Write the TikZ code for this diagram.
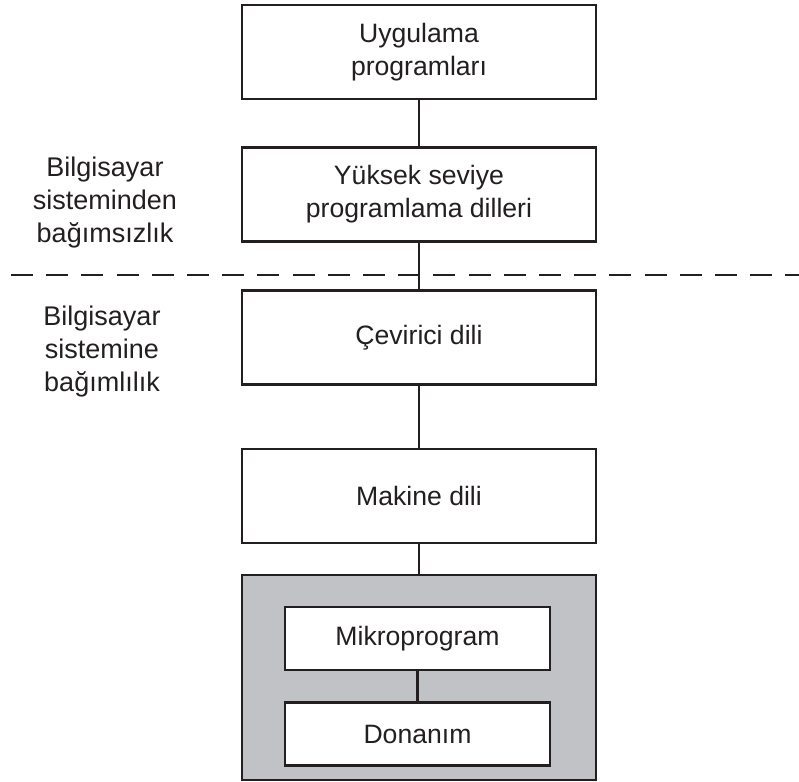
\documentclass[tikz,border=0pt]{standalone}
\usepackage{fontspec}
\setmainfont{Liberation Sans}
\definecolor{inkgrey}{RGB}{35,31,32}
\definecolor{hwgrey}{RGB}{193,194,197}
\tikzset{
  layer/.style={draw=inkgrey,line width=1.2pt,fill=white,text=inkgrey,
                minimum width=177pt,minimum height=47pt,inner sep=0pt,
                align=center,font=\fontsize{13.3}{16.5}\selectfont},
  hwbox/.style={layer,fill=hwgrey,minimum height=102.5pt},
  sublayer/.style={layer,minimum width=132.5pt,minimum height=31.5pt},
  link/.style={draw=inkgrey,line width=1.2pt},
  sidenote/.style={align=center,text=inkgrey,inner sep=0pt,
                   font=\fontsize{13.5}{16.5}\selectfont},
  divider/.style={draw=inkgrey,line width=1.3pt,dash pattern=on 11pt off 6.6pt},
}
\begin{document}
\begin{tikzpicture}[x=0.5pt,y=-0.5pt]
  \useasboundingbox (0,0) rectangle (799,782);
  % separator between the two halves
  \draw[divider] (11,275) -- (799,275);
  % language levels
  \node[layer] (uyg) at (419,52) {Uygulama\\programları};
  \node[layer] (yuk) at (419,194.5) {Yüksek seviye\\programlama dilleri};
  \node[layer] (cev) at (419,337.5) {Çevirici dili};
  \node[layer] (mak) at (419,496) {Makine dili};
  \node[hwbox] (hw) at (419,677.5) {};
  \node[sublayer] (mikro) at (417.5,638.5) {Mikroprogram};
  \node[sublayer] (don) at (417.5,734) {Donanım};
  \draw[link] (uyg) -- (yuk);
  \draw[link] (yuk) -- (cev);
  \draw[link] (cev) -- (mak);
  \draw[link] (mak) -- (hw);
  \draw[link] (mikro) -- (don);
  % notes on the left
  \node[sidenote] (bagimsiz) at (105,203) {Bilgisayar\\sisteminden\\bağımsızlık};
  \node[sidenote] (bagimli) at (102,352) {Bilgisayar\\sistemine\\bağımlılık};
\end{tikzpicture}
\end{document}
